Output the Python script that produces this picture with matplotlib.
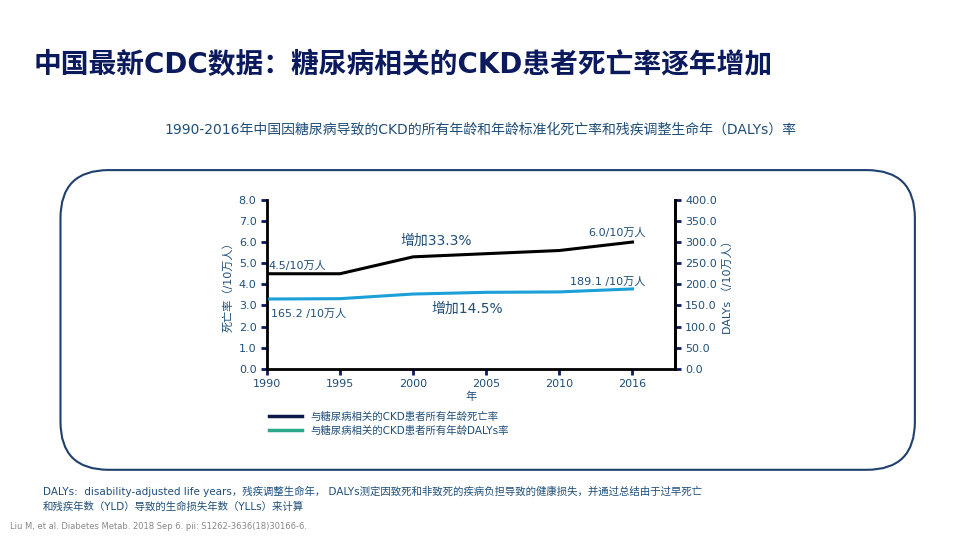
import matplotlib.pyplot as plt
from matplotlib.patches import FancyBboxPatch
from matplotlib.lines import Line2D

plt.rcParams['font.family'] = ['DejaVu Sans', 'Noto Sans CJK SC']

years = ['1990', '1995', '2000', '2005', '2010', '2016']
death_rate = [4.5, 4.5, 5.3, 5.45, 5.6, 6.0]
dalys_rate = [165.2, 166.0, 177.0, 181.0, 182.0, 189.1]

navy = '#0b1a5c'
blue_txt = '#1f4e79'
black_line = '#000000'
cyan_line = '#1a9fd6'

fig = plt.figure(figsize=(9.6, 5.4), dpi=100)
fig.text(0.035, 0.88, '中国最新CDC数据：糖尿病相关的CKD患者死亡率逐年增加',
         fontsize=20, fontweight='bold', color=navy, va='center')
fig.text(0.5, 0.76, '1990-2016年中国因糖尿病导致的CKD的所有年龄和年龄标准化死亡率和残疾调整生命年（DALYs）率',
         fontsize=10, color=blue_txt, ha='center', va='center')

box = FancyBboxPatch((0.063, 0.13), 0.89, 0.555, boxstyle='round,pad=0,rounding_size=0.05',
                     transform=fig.transFigure, fill=False, edgecolor='#1f3f6e', linewidth=1.5,
                     mutation_aspect=960 / 540)
fig.add_artist(box)

ax = fig.add_axes([0.278, 0.317, 0.425, 0.313])
x = list(range(len(years)))
ax.plot(x, death_rate, color=black_line, lw=2.2)
ax.set_xlim(0, 5.58)
ax.set_ylim(0, 8)
ax.set_xticks(x)
ax.set_xticklabels(years)
ax.set_yticks([i for i in range(9)])
ax.set_yticklabels([f'{i:.1f}' for i in range(9)])
ax.set_xlabel('年', color=blue_txt, fontsize=8, labelpad=2)
ax.set_ylabel('死亡率（/10万人）', color=blue_txt, fontsize=8)
for s in ['left', 'bottom', 'right']:
    ax.spines[s].set_linewidth(2)
    ax.spines[s].set_color('black')
ax.spines['top'].set_visible(False)
ax.tick_params(colors=navy, labelcolor=blue_txt, labelsize=8, width=2, length=4)

ax2 = ax.twinx()
ax2.plot(x, dalys_rate, color=cyan_line, lw=2.2)
ax2.set_ylim(0, 400)
ax2.set_yticks(range(0, 401, 50))
ax2.set_yticklabels([f'{v:.1f}' for v in range(0, 401, 50)])
ax2.set_ylabel('DALYs （/10万人）', color=blue_txt, fontsize=8)
ax2.spines['top'].set_visible(False)
ax2.spines['right'].set_linewidth(2)
ax2.tick_params(colors=navy, labelcolor=blue_txt, labelsize=8, width=2, length=4)

ax.text(0.02, 4.75, '4.5/10万人', fontsize=8, color=blue_txt)
ax.text(4.4, 6.3, '6.0/10万人', fontsize=8, color=blue_txt)
ax.text(1.82, 5.85, '增加33.3%', fontsize=10, color=blue_txt)
ax2.text(0.05, 122, '165.2 /10万人', fontsize=8, color=blue_txt)
ax2.text(4.15, 198, '189.1 /10万人', fontsize=8, color=blue_txt)
ax2.text(2.25, 133, '增加14.5%', fontsize=10, color=blue_txt)

handles = [Line2D([], [], color='#0b1a4a', lw=2.5), Line2D([], [], color='#2aa889', lw=2.5)]
fig.legend(handles, ['与糖尿病相关的CKD患者所有年龄死亡率', '与糖尿病相关的CKD患者所有年龄DALYs率'],
           loc='upper left', bbox_to_anchor=(0.27, 0.255), frameon=False, fontsize=7.5,
           labelcolor=blue_txt, handlelength=3.2, labelspacing=0.3)

fig.text(0.045, 0.09, 'DALYs:  disability-adjusted life years，残疾调整生命年， DALYs测定因致死和非致死的疾病负担导致的健康损失，并通过总结由于过早死亡',
         fontsize=7.5, color=blue_txt, va='center')
fig.text(0.045, 0.062, '和残疾年数（YLD）导致的生命损失年数（YLLs）来计算', fontsize=7.5, color=blue_txt, va='center')
fig.text(0.01, 0.025, 'Liu M, et al. Diabetes Metab. 2018 Sep 6. pii: S1262-3636(18)30166-6.',
         fontsize=6, color='#888888', va='center')

fig.savefig('out.png', dpi=100)
